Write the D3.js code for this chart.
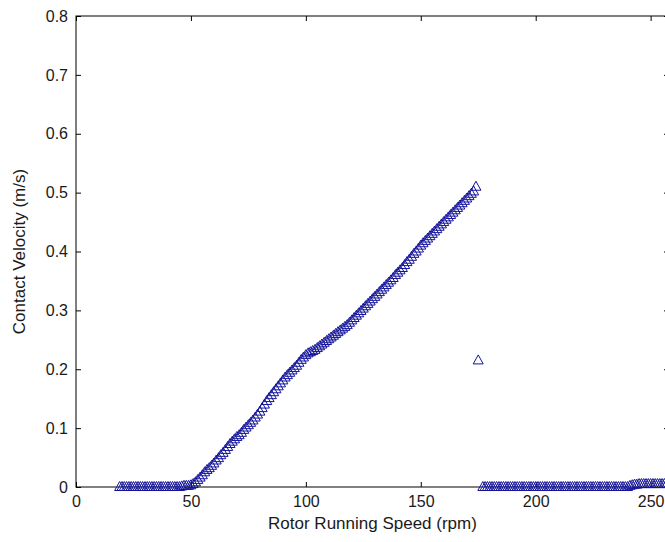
<!DOCTYPE html>
<html>
<head>
    <meta charset="UTF-8">
    <script src="https://cdn.jsdelivr.net/npm/d3@7"></script>
    <style>
        body { margin: 0; background: #fff; }
        svg text { font-family: "Liberation Sans", Arial, sans-serif; fill: #1a1a1a; }
    </style>
</head>
<body>
<svg id="chart" width="665" height="542"></svg>
<script>

// ---- data ----
// flat part before contact starts
const speed_low = [19, 20, 21, 22, 23, 24, 25, 26, 27, 28, 29, 30, 31, 32, 33, 34, 35, 36, 37, 38, 39, 40, 41, 42, 43, 44, 45, 46, 47, 48, 49];
const vel_low   = [0, 0, 0, 0, 0, 0, 0, 0, 0, 0, 0, 0, 0, 0, 0, 0, 0, 0, 0, 0, 0, 0, 0, 0, 0, 0, 0, 0.001, 0.002, 0.002, 0.002];

// rising part
const speed_rise = [50, 51, 52, 53, 54, 55, 56, 57, 58, 59, 60, 61, 62, 63, 64, 65, 66, 67, 68, 69,
    70, 71, 72, 73, 74, 75, 76, 77, 78, 79, 80, 81, 82, 83, 84, 85, 86, 87, 88, 89,
    90, 91, 92, 93, 94, 95, 96, 97, 98, 99, 100, 101, 102, 103, 104, 105, 106, 107, 108, 109,
    110, 111, 112, 113, 114, 115, 116, 117, 118, 119, 120, 121, 122, 123, 124, 125, 126, 127, 128, 129,
    130, 131, 132, 133, 134, 135, 136, 137, 138, 139, 140, 141, 142, 143, 144, 145, 146, 147, 148, 149,
    150, 151, 152, 153, 154, 155, 156, 157, 158, 159, 160, 161, 162, 163, 164, 165, 166, 167, 168, 169,
    170, 171, 172, 173, 174, 175];
const vel_rise = [0.003, 0.005, 0.008, 0.012, 0.016, 0.020, 0.025, 0.029, 0.032, 0.036,
    0.040, 0.045, 0.049, 0.054, 0.058, 0.063, 0.068, 0.073, 0.077, 0.081,
    0.085, 0.088, 0.092, 0.097, 0.101, 0.105, 0.109, 0.113, 0.118, 0.123,
    0.128, 0.134, 0.140, 0.146, 0.151, 0.156, 0.161, 0.166, 0.171, 0.176,
    0.181, 0.186, 0.190, 0.194, 0.198, 0.202, 0.206, 0.211, 0.216, 0.220,
    0.224, 0.227, 0.229, 0.231, 0.233, 0.236, 0.239, 0.242, 0.245, 0.248,
    0.251, 0.254, 0.257, 0.260, 0.263, 0.266, 0.269, 0.272, 0.275, 0.279,
    0.283, 0.287, 0.291, 0.295, 0.299, 0.303, 0.307, 0.311, 0.315, 0.319,
    0.323, 0.327, 0.331, 0.335, 0.339, 0.343, 0.347, 0.351, 0.355, 0.360,
    0.364, 0.368, 0.372, 0.377, 0.382, 0.386, 0.391, 0.396, 0.400, 0.405,
    0.410, 0.414, 0.418, 0.422, 0.426, 0.430, 0.434, 0.438, 0.442, 0.446,
    0.450, 0.454, 0.458, 0.462, 0.466, 0.470, 0.474, 0.478, 0.482, 0.486,
    0.490, 0.494, 0.498, 0.502, 0.510, 0.215];

// after contact is lost
const speed_high = [177, 178, 179, 180, 181, 182, 183, 184, 185, 186, 187, 188, 189, 190, 191, 192, 193, 194, 195, 196,
    197, 198, 199, 200, 201, 202, 203, 204, 205, 206, 207, 208, 209, 210, 211, 212, 213, 214, 215, 216,
    217, 218, 219, 220, 221, 222, 223, 224, 225, 226, 227, 228, 229, 230, 231, 232, 233, 234, 235, 236,
    237, 238, 239, 240, 241, 242, 243, 244, 245, 246, 247, 248, 249, 250, 251, 252, 253, 254, 255, 256, 257];
const vel_high = [0, 0, 0, 0, 0, 0, 0, 0, 0, 0, 0, 0, 0, 0, 0, 0, 0, 0, 0, 0,
    0, 0, 0, 0, 0, 0, 0, 0, 0, 0, 0, 0, 0, 0, 0, 0, 0, 0, 0, 0,
    0, 0, 0, 0, 0, 0, 0, 0, 0, 0, 0, 0, 0, 0, 0, 0, 0, 0, 0, 0,
    0, 0, 0, 0, 0.002, 0.003, 0.004, 0.004, 0.005, 0.005, 0.005, 0.005, 0.005, 0.005, 0.005, 0.005, 0.005, 0.005, 0.005, 0.005, 0.005];

const x_ticks = [0, 50, 100, 150, 200, 250];
const y_ticks = [0, 0.1, 0.2, 0.3, 0.4, 0.5, 0.6, 0.7, 0.8];

// ---- layout ----
const m_left = 76, m_right = 669, m_top = 16, m_bottom = 487;
const marker_color = "#14149a";

const svg = d3.select("#chart");
const x = d3.scaleLinear([0, 258], [m_left, m_right]);
const y = d3.scaleLinear([0, 0.8], [m_bottom, m_top]);

// box
svg.append("rect")
    .attr("x", m_left).attr("y", m_top)
    .attr("width", m_right - m_left).attr("height", m_bottom - m_top)
    .attr("fill", "none").attr("stroke", "#000").attr("stroke-width", 1);

// ticks (inside, on all four sides)
const tick_len = 5;
svg.append("g").attr("transform", `translate(0,${m_bottom})`)
    .call(d3.axisBottom(x).tickValues(x_ticks).tickSizeInner(-tick_len).tickSizeOuter(0).tickPadding(9).tickFormat(d3.format("d")));
svg.append("g").attr("transform", `translate(0,${m_top})`)
    .call(d3.axisTop(x).tickValues(x_ticks).tickSizeInner(-tick_len).tickSizeOuter(0).tickFormat(""));
svg.append("g").attr("transform", `translate(${m_left},0)`)
    .call(d3.axisLeft(y).tickValues(y_ticks).tickSizeInner(-tick_len).tickSizeOuter(0).tickPadding(8).tickFormat(d => d === 0 ? "0" : d3.format(".1f")(d)));
svg.append("g").attr("transform", `translate(${m_right},0)`)
    .call(d3.axisRight(y).tickValues(y_ticks).tickSizeInner(-tick_len).tickSizeOuter(0).tickFormat(""));

svg.selectAll(".domain").remove();
svg.selectAll(".tick line").attr("stroke", "#000");
svg.selectAll(".tick text").attr("font-size", 16).attr("fill", "#1a1a1a");

// axis labels
svg.append("text")
    .attr("x", (m_left + m_right) / 2).attr("y", 529)
    .attr("text-anchor", "middle").attr("font-size", 17)
    .text("Rotor Running Speed (rpm)");
svg.append("text")
    .attr("transform", `translate(25,${(m_top + m_bottom) / 2}) rotate(-90)`)
    .attr("text-anchor", "middle").attr("font-size", 17)
    .text("Contact Velocity (m/s)");

// markers
const points = [];
speed_low.forEach((s, i) => points.push([s, vel_low[i]]));
speed_rise.forEach((s, i) => points.push([s, vel_rise[i]]));
speed_high.forEach((s, i) => points.push([s, vel_high[i]]));

const w = 10, h = 9;
const tri = `M0,${-h / 2}L${w / 2},${h / 2}L${-w / 2},${h / 2}Z`;
svg.append("g").selectAll("path")
    .data(points)
    .join("path")
    .attr("d", tri)
    .attr("transform", d => `translate(${x(d[0])},${y(d[1]) - 1})`)
    .attr("fill", "none")
    .attr("stroke", marker_color)
    .attr("stroke-width", 1);

</script>
</body>
</html>
